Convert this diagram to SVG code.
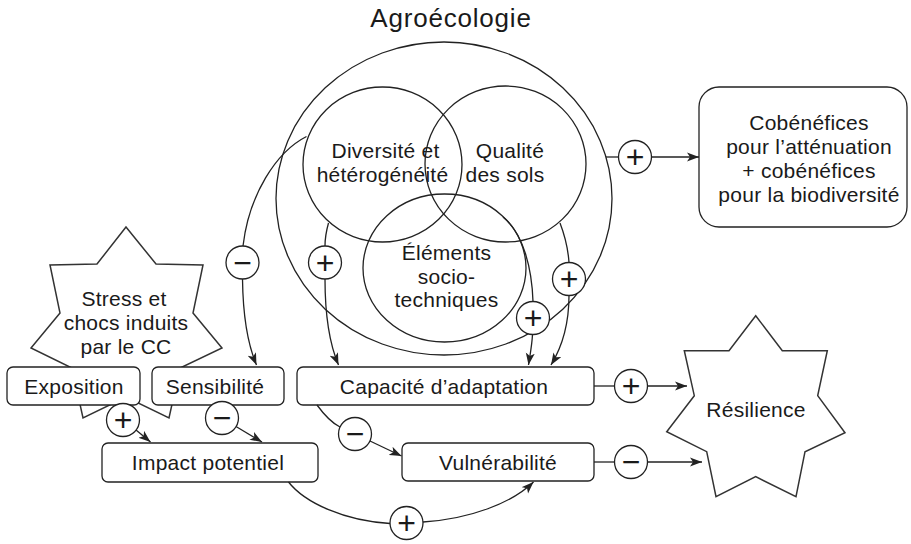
<svg xmlns="http://www.w3.org/2000/svg" width="911" height="544" viewBox="0 0 911 544">
<defs>
<style>
.t{font-family:"Liberation Sans",Arial,Helvetica,sans-serif;font-size:21px;letter-spacing:0.25px;fill:#1a1a1a;text-anchor:middle}
.title{font-size:26px;letter-spacing:0.8px}
.s{font-family:"Liberation Sans",Arial,sans-serif;font-size:32px;fill:#1a1a1a;text-anchor:middle}
.ln{fill:none;stroke:#222;stroke-width:1.3}
.box{fill:#fff;stroke:#222;stroke-width:1.3}
.star{fill:#fff;stroke:#333;stroke-width:1.5;stroke-linejoin:miter}
.sc{fill:#fff;stroke:#222;stroke-width:1.3}
.ar{fill:none;stroke:#222;stroke-width:1.3;marker-end:url(#ah)}
</style>
<marker id="ah" viewBox="0 0 12 10" refX="12" refY="5" markerWidth="12" markerHeight="10" markerUnits="userSpaceOnUse" orient="auto">
<path d="M0,0.5 L12,5 L0,9.5 L3,5 Z" fill="#222"/>
</marker>
</defs>
<rect width="911" height="544" fill="#fff"/>

<g id="agroecologie">
<ellipse class="ln" cx="444" cy="198.5" rx="168" ry="156.5"/>
<text class="t title" x="451" y="27">Agroécologie</text>
</g>
<g id="diversite">
<ellipse class="ln" cx="382.5" cy="164.5" rx="79.5" ry="77.5"/>
<text class="t" x="385.5" y="158">Diversité et</text>
<text class="t" x="382.5" y="181.5">hétérogénéité</text>
</g>
<g id="qualite">
<ellipse class="ln" cx="505.5" cy="164" rx="80.5" ry="78"/>
<text class="t" x="510" y="158">Qualité</text>
<text class="t" x="505" y="181.5">des sols</text>
</g>
<g id="elements">
<ellipse class="ln" cx="444.5" cy="268" rx="81.5" ry="74"/>
<text class="t" x="446.5" y="260">Éléments</text>
<text class="t" x="446.5" y="283.5">socio-</text>
<text class="t" x="446.5" y="307">techniques</text>
</g>
<g id="cobenefices">
<rect class="box" x="699" y="87" width="208" height="140" rx="20"/>
<text class="t" x="809" y="129.5">Cobénéfices</text>
<text class="t" x="809" y="153.5">pour l’atténuation</text>
<text class="t" x="809" y="177.5">+ cobénéfices</text>
<text class="t" x="809" y="201.5">pour la biodiversité</text>
</g>
<g id="stress">
<polygon class="star" points="126,227 156,264 203,265 193,313 222,348 180,368 169,418 126,397 83,418 72,368 31,348 60,313 50,265 97,264"/>
<text class="t" x="124" y="306">Stress et</text>
<text class="t" x="126" y="330">chocs induits</text>
<text class="t" x="126" y="353.5">par le CC</text>
</g>
<g id="exposition">
<rect class="box" x="7" y="367" width="133" height="38" rx="6"/>
<text class="t" x="74" y="394">Exposition</text>
</g>
<g id="sensibilite">
<rect class="box" x="152" y="367" width="132" height="38" rx="6"/>
<text class="t" x="215" y="394">Sensibilité</text>
</g>
<g id="impact">
<rect class="box" x="102" y="443" width="216" height="39" rx="6"/>
<text class="t" x="208" y="470">Impact potentiel</text>
</g>
<g id="capacite">
<rect class="box" x="297" y="367" width="297" height="38" rx="6"/>
<text class="t" x="444" y="394">Capacité d’adaptation</text>
</g>
<g id="vulnerabilite">
<rect class="box" x="402" y="443" width="192" height="38" rx="6"/>
<text class="t" x="498" y="470">Vulnérabilité</text>
</g>
<g id="resilience">
<polygon class="star" points="755.7,315.7 782.3,350.7 827.3,350.7 817.7,395.7 845,432.7 805,451.7 796,496.7 755.7,476.7 716,496.7 706.7,451.7 666.7,431.7 694.3,395.7 684.3,350.7 729,350.7"/>
<text class="t" x="756" y="417">Résilience</text>
</g>

<g id="connectors">
<path class="ln" d="M306.5,136.5 C276,152 249,195 243,246"/>
<path class="ar" d="M242.5,279 C243,318 248,345 256.5,365"/>
<path class="ln" d="M328.5,223 C326,232 325,240 325,246"/>
<path class="ar" d="M325,279 C325,318 330,345 338.5,365"/>
<path class="ln" d="M560,223 C565,236 568,248 569,262.5"/>
<path class="ar" d="M569,295.5 C569,325 562,347 551,365"/>
<path class="ln" d="M503,217 C524,234 532,270 533,301.5"/>
<path class="ar" d="M532.5,334.5 C532,345 530,355 528.5,365"/>
<path class="ln" d="M317,405 C325,416 334,424 340,427"/>
<path class="ar" d="M370,441 L401.5,456"/>
<path class="ln" d="M288.5,482 C305,503 345,521 390,523.5"/>
<path class="ar" d="M423,522 C470,519 512,503 533.5,482"/>
<path class="ar" d="M136,430 L150.5,442"/>
<path class="ar" d="M236,426.5 L262,442"/>
<path class="ln" d="M594,386 L614.5,386"/>
<path class="ar" d="M647.5,386 L687,386"/>
<path class="ln" d="M594,462 L614.5,462"/>
<path class="ar" d="M647.5,462 L702,462"/>
<path class="ln" d="M606,157 L618.5,157"/>
<path class="ar" d="M651.5,157 L699,157"/>

<circle class="sc" cx="242.5" cy="262.5" r="16.5"/><text class="s" x="242.5" y="273.5">−</text>
<circle class="sc" cx="325" cy="262.5" r="16.5"/><text class="s" x="325" y="273.5">+</text>
<circle class="sc" cx="569" cy="279" r="16.5"/><text class="s" x="569" y="290">+</text>
<circle class="sc" cx="533" cy="318" r="16.5"/><text class="s" x="533" y="329">+</text>
<circle class="sc" cx="355" cy="434" r="16.5"/><text class="s" x="355" y="445">−</text>
<circle class="sc" cx="406.5" cy="523" r="16.5"/><text class="s" x="406.5" y="534">+</text>
<circle class="sc" cx="123" cy="420" r="16.5"/><text class="s" x="123" y="431">+</text>
<circle class="sc" cx="222" cy="418" r="16.5"/><text class="s" x="222" y="429">−</text>
<circle class="sc" cx="631" cy="386" r="16.5"/><text class="s" x="631" y="397">+</text>
<circle class="sc" cx="631" cy="462" r="16.5"/><text class="s" x="631" y="473">−</text>
<circle class="sc" cx="635" cy="157" r="16.5"/><text class="s" x="635" y="168">+</text>
</g>
</svg>
